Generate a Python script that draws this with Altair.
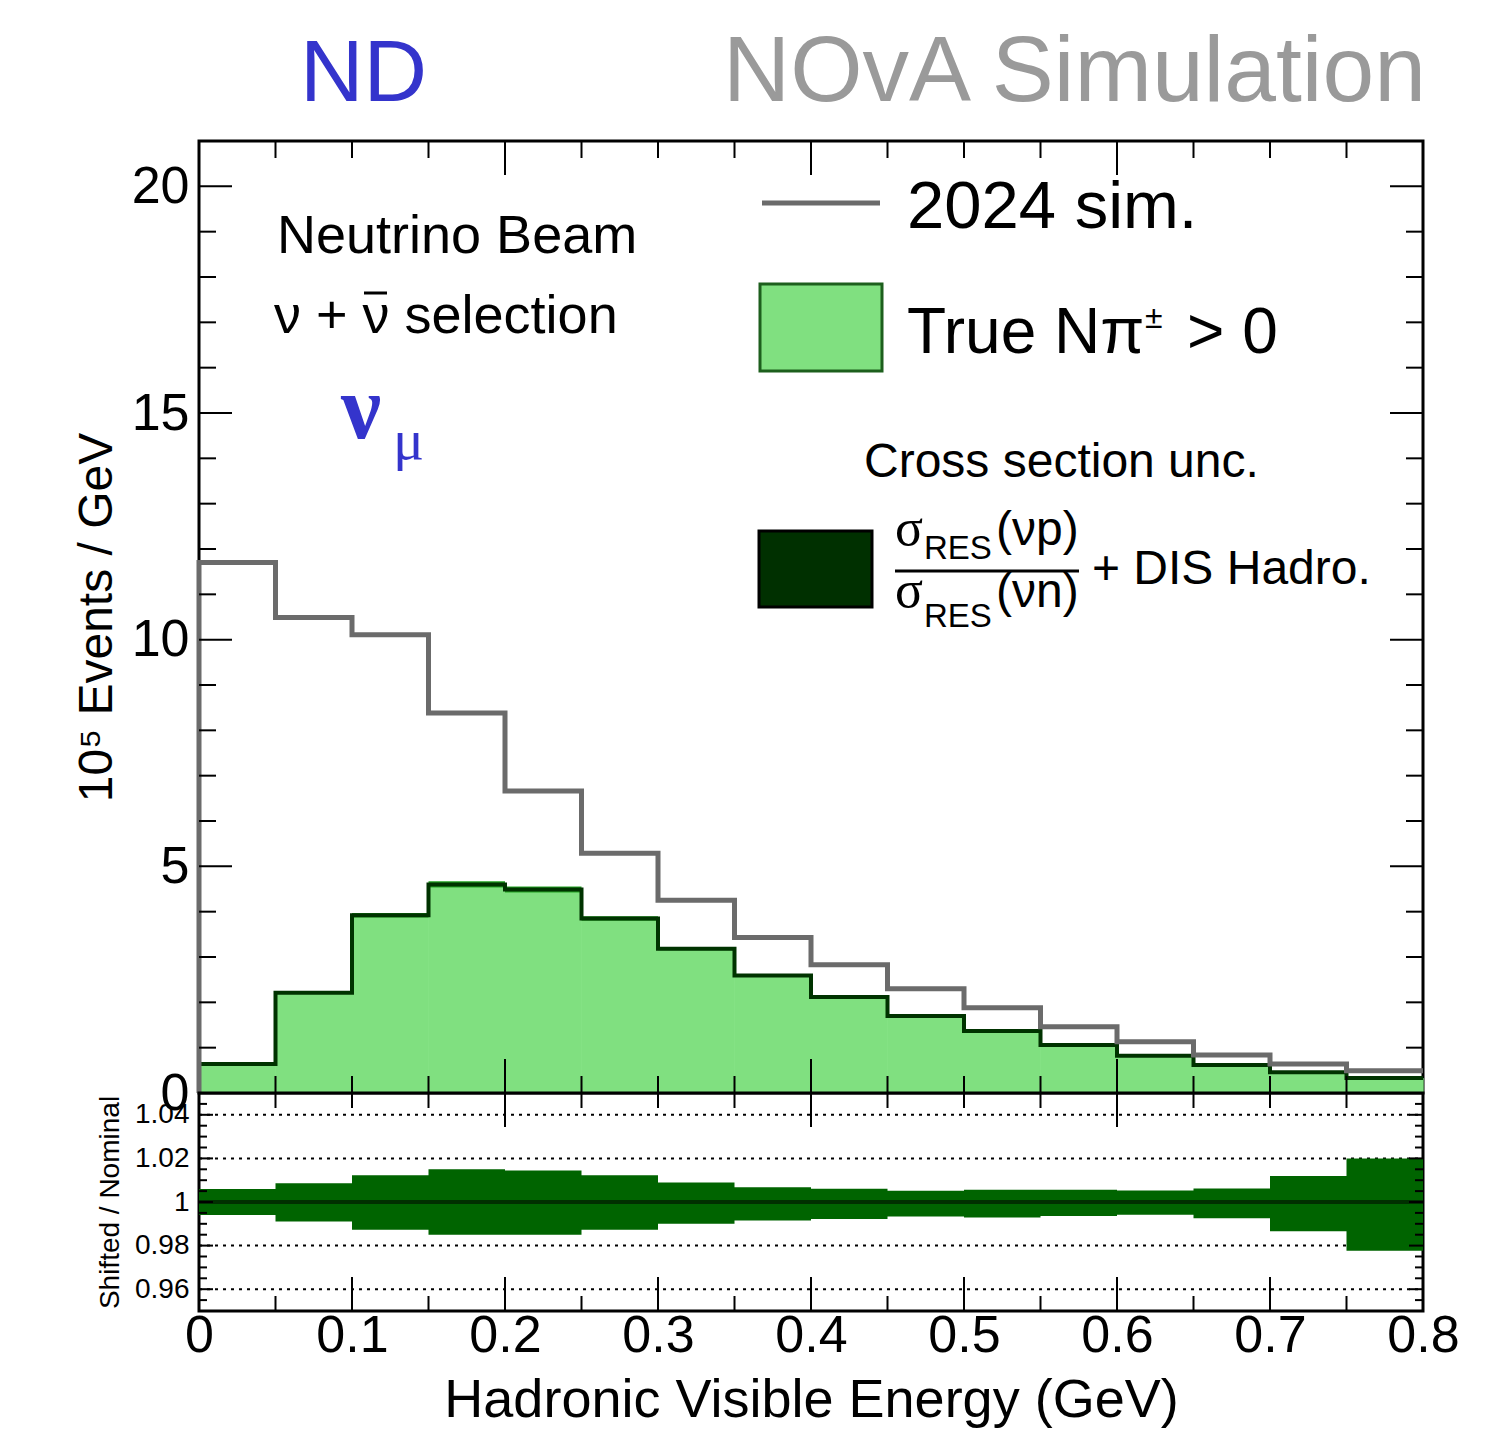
import altair as alt
import pandas as pd

# ---------------- data ----------------
edges = [0.0, 0.05, 0.1, 0.15, 0.2, 0.25, 0.3, 0.35, 0.4, 0.45, 0.5, 0.55, 0.6, 0.65, 0.7, 0.75, 0.8]
sim_2024 = [11.70, 10.49, 10.11, 8.38, 6.66, 5.29, 4.25, 3.43, 2.83, 2.30, 1.88, 1.46, 1.13, 0.84, 0.64, 0.49]
true_npi = [0.64, 2.21, 3.92, 4.60, 4.49, 3.85, 3.18, 2.59, 2.12, 1.70, 1.37, 1.06, 0.82, 0.62, 0.46, 0.33]
ratio_hi = [1.0060, 1.0086, 1.0123, 1.0150, 1.0145, 1.0123, 1.0090, 1.0068, 1.0061, 1.0052, 1.0056, 1.0056, 1.0053, 1.0062, 1.0119, 1.0199]
ratio_lo = [0.9940, 0.9910, 0.9873, 0.9850, 0.9850, 0.9873, 0.9900, 0.9915, 0.9922, 0.9933, 0.9929, 0.9936, 0.9941, 0.9925, 0.9866, 0.9776]

top_y_major = [0, 5, 10, 15, 20]
top_y_minor = [1, 2, 3, 4, 6, 7, 8, 9, 11, 12, 13, 14, 16, 17, 18, 19]
x_ticks_short_top = [0.05, 0.1, 0.15, 0.25, 0.3, 0.35, 0.45, 0.5, 0.55, 0.65, 0.7, 0.75]
x_ticks_long_top = [0.2, 0.4, 0.6]
x_ticks_short_bottom = [0.05, 0.15, 0.25, 0.35, 0.45, 0.55, 0.65, 0.75]
x_ticks_long_bottom = [0.1, 0.2, 0.3, 0.4, 0.5, 0.6, 0.7]
x_labels = [0.0, 0.1, 0.2, 0.3, 0.4, 0.5, 0.6, 0.7, 0.8]
ratio_labels = [0.96, 0.98, 1.0, 1.02, 1.04]
ratio_minor = [0.955, 0.965, 0.97, 0.975, 0.985, 0.99, 0.995, 1.005, 1.01, 1.015, 1.025, 1.03, 1.035, 1.045]
ratio_grid = [0.96, 0.98, 1.02, 1.04]
ratio_nominal = [1.0]

W, H, H2 = 1224, 952, 218
FONT = "Liberation Sans"
SERIF = "Liberation Serif"

xs = alt.Scale(domain=[0, 0.8], nice=False, zero=False)
ys_top = alt.Scale(domain=[0, 21], nice=False, zero=False)
ys_rat = alt.Scale(domain=[0.95, 1.05], nice=False, zero=False)

top_y_axis = alt.Axis(
    values=top_y_major, ticks=False, domain=False, grid=False, labelFontSize=52, labelFont=FONT,
    labelColor="black", labelPadding=10, labelFlush=False, labelOverlap=False,
    title="10⁵ Events / GeV", titleFont=FONT, titleFontSize=48, titleFontWeight="normal",
    titleColor="black", titleX=-102, titleY=476, titleAngle=-90, titleBaseline="middle", titleAlign="center")

rat_y_axis = alt.Axis(
    values=ratio_labels, ticks=False, domain=False, grid=False, labelFontSize=28, labelFont=FONT,
    labelColor="black", labelPadding=10, labelFlush=False, labelOverlap=False,
    labelExpr="format(datum.value, '~g')",
    title="Shifted / Nominal", titleFont=FONT, titleFontSize=28, titleFontWeight="normal",
    titleColor="black", titleX=-89, titleY=109, titleAngle=-90, titleBaseline="middle", titleAlign="center")

rat_x_axis = alt.Axis(
    values=x_labels, ticks=False, domain=False, grid=False, labelFontSize=52, labelFont=FONT,
    labelColor="black", labelPadding=-1, labelFlush=False, labelOverlap=False,
    labelExpr="datum.value == 0 ? '0' : format(datum.value, '.1f')",
    title="Hadronic Visible Energy (GeV)", titleFont=FONT, titleFontSize=54, titleFontWeight="normal",
    titleColor="black", titlePadding=12)


def step_df(vals, start_zero=False):
    xv = list(edges)
    yv = list(vals) + [vals[-1]]
    if start_zero:
        xv = [0.0] + xv
        yv = [0.0] + yv
    return pd.DataFrame({"x": xv, "y": yv, "o": list(range(len(xv)))})


def band_df(base, lo, hi):
    b = list(base) + [base[-1]]
    l = list(lo) + [lo[-1]]
    h = list(hi) + [hi[-1]]
    return pd.DataFrame({"x": edges, "lo": [bb * ll for bb, ll in zip(b, l)],
                         "hi": [bb * hh for bb, hh in zip(b, h)]})


def yticks(vals, length, scale, axis):
    df = pd.DataFrame({"v": vals})
    base = alt.Chart(df).mark_rule(color="black", strokeWidth=2)
    left = base.encode(y=alt.Y("v:Q", scale=scale, axis=axis), x=alt.value(0), x2=alt.value(length))
    right = base.encode(y=alt.Y("v:Q", scale=scale, axis=axis), x=alt.value(W - length), x2=alt.value(W))
    return [left, right]


def xticks(vals, length, height, where, axis):
    df = pd.DataFrame({"v": vals})
    base = alt.Chart(df).mark_rule(color="black", strokeWidth=2)
    if where == "bottom":
        return base.encode(x=alt.X("v:Q", scale=xs, axis=axis), y=alt.value(height - length), y2=alt.value(height))
    return base.encode(x=alt.X("v:Q", scale=xs, axis=axis), y=alt.value(0), y2=alt.value(length))


dummy = pd.DataFrame({"a": [0]})


def txt(s, x, y, size, color="black", font=FONT, align="left", baseline="alphabetic", weight="normal"):
    return alt.Chart(dummy).mark_text(text=s, fontSize=size, color=color, font=font, align=align,
                                      baseline=baseline, fontWeight=weight).encode(x=alt.value(x), y=alt.value(y))


def hrule(x1, x2, y, color="black", width=3):
    return alt.Chart(dummy).mark_rule(color=color, strokeWidth=width).encode(
        x=alt.value(x1), x2=alt.value(x2), y=alt.value(y))


# ---------------- top panel ----------------
green_fill = alt.Chart(step_df(true_npi)).mark_area(
    interpolate="step-after", color="#80e080", stroke="#80e080", strokeWidth=0.6).encode(
    x=alt.X("x:Q", scale=xs, axis=None),
    y=alt.Y("y:Q", scale=ys_top, axis=top_y_axis),
    order="o:Q")

green_band = alt.Chart(band_df(true_npi, ratio_lo, ratio_hi)).mark_area(
    interpolate="step-after", color="#23a323").encode(
    x=alt.X("x:Q", scale=xs, axis=None),
    y=alt.Y("lo:Q", scale=ys_top, axis=top_y_axis), y2="hi:Q")

green_line = alt.Chart(step_df(true_npi, True)).mark_line(
    interpolate="step-after", color="#003300", strokeWidth=4).encode(
    x=alt.X("x:Q", scale=xs, axis=None), y=alt.Y("y:Q", scale=ys_top, axis=top_y_axis), order="o:Q")

grey_line = alt.Chart(step_df(sim_2024, True)).mark_line(
    interpolate="step-after", color="#6b6b6b", strokeWidth=5).encode(
    x=alt.X("x:Q", scale=xs, axis=None), y=alt.Y("y:Q", scale=ys_top, axis=top_y_axis), order="o:Q")

top_ticks = (yticks(top_y_major, 33, ys_top, top_y_axis) + yticks(top_y_minor, 17, ys_top, top_y_axis) +
             [xticks(x_ticks_short_top, 17, H, "bottom", None), xticks(x_ticks_long_top, 34, H, "bottom", None),
              xticks(x_ticks_short_top, 17, H, "top", None), xticks(x_ticks_long_top, 34, H, "top", None)])

annotations = [
    txt("ND", 101, -40, 88, color="#3434cc"),
    txt("NOvA Simulation", 524, -40, 93, color="#9a9a9a"),
    txt("Neutrino Beam", 78, 112, 54),
    txt("ν + ν selection", 75, 192, 54),
    hrule(165, 188, 152, width=3),
    txt("ν", 142, 297, 90, color="#3434cc", font=SERIF, weight="bold"),
    txt("μ", 194, 318, 58, color="#3434cc", font=SERIF),
    hrule(563, 681, 62, color="#6b6b6b", width=5),
    txt("2024 sim.", 708, 87, 67),
    alt.Chart(dummy).mark_rect(fill="#80e080", stroke="#1d5f1d", strokeWidth=3).encode(
        x=alt.value(561), x2=alt.value(683), y=alt.value(143), y2=alt.value(230)),
    txt("True Nπ", 708, 212, 64),
    txt("±", 946, 187, 32),
    txt("> 0", 988, 212, 64),
    txt("Cross section unc.", 665, 336, 48),
    alt.Chart(dummy).mark_rect(fill="#003000", stroke="black", strokeWidth=3).encode(
        x=alt.value(560), x2=alt.value(673), y=alt.value(390), y2=alt.value(466)),
    txt("σ", 696, 404, 52, font=SERIF),
    txt("RES", 725, 418, 33),
    txt("(νp)", 797, 404, 48),
    hrule(696, 880, 430),
    txt("σ", 696, 466, 52, font=SERIF),
    txt("RES", 725, 486, 33),
    txt("(νn)", 797, 466, 48),
    txt("+ DIS Hadro.", 893, 443, 48),
]

top = alt.layer(green_fill, green_band, green_line, grey_line, *top_ticks, *annotations).properties(
    width=W, height=H)

# ---------------- ratio panel ----------------
grid = alt.Chart(pd.DataFrame({"v": ratio_grid})).mark_rule(
    color="black", strokeWidth=2, strokeDash=[3, 5]).encode(
    y=alt.Y("v:Q", scale=ys_rat, axis=rat_y_axis), x=alt.value(0), x2=alt.value(W))

rb = pd.DataFrame({"x": edges, "lo": list(ratio_lo) + [ratio_lo[-1]], "hi": list(ratio_hi) + [ratio_hi[-1]]})
ratio_band = alt.Chart(rb).mark_area(interpolate="step-after", color="#006400").encode(
    x=alt.X("x:Q", scale=xs, axis=rat_x_axis),
    y=alt.Y("lo:Q", scale=ys_rat, axis=rat_y_axis),
    y2="hi:Q")

nominal = alt.Chart(pd.DataFrame({"v": ratio_nominal})).mark_rule(
    color="#003000", strokeWidth=4).encode(
    y=alt.Y("v:Q", scale=ys_rat, axis=rat_y_axis), x=alt.value(0), x2=alt.value(W))

ratio_ticks = (yticks(ratio_labels, 14, ys_rat, rat_y_axis) + yticks(ratio_minor, 8, ys_rat, rat_y_axis) +
               [xticks(x_ticks_short_bottom, 15, H2, "bottom", rat_x_axis),
                xticks(x_ticks_long_bottom, 34, H2, "bottom", rat_x_axis),
                xticks(x_ticks_short_top, 15, H2, "top", rat_x_axis),
                xticks(x_ticks_long_top, 34, H2, "top", rat_x_axis)])

ratio = alt.layer(grid, ratio_band, nominal, *ratio_ticks).properties(width=W, height=H2)

chart = alt.vconcat(top, ratio, spacing=0, bounds="flush").properties(
    padding={"left": 71, "top": 25, "right": 5, "bottom": 5}
).configure(background="white").configure_view(stroke="black", strokeWidth=3)

chart.save("out.html", embed_options={"renderer": "svg", "actions": False})
